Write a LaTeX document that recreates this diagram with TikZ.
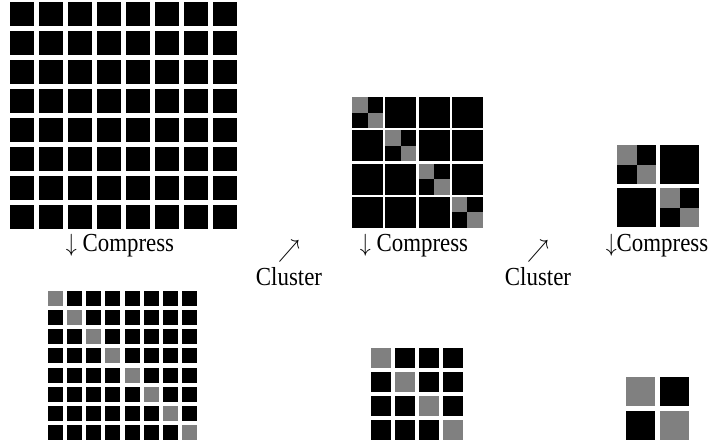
\documentclass[tikz,border=0pt]{standalone}
\usepackage{fontspec}
\setmainfont{Liberation Serif}
\usepackage{xcolor}
\definecolor{diag}{HTML}{808080}

\begin{document}
\begin{tikzpicture}[
    x=1pt, y=-1pt,
    every node/.style={font=\fontsize{26}{28}\selectfont, xscale=0.88, inner sep=0pt},
    blk/.style={fill=black},
    gry/.style={fill=diag},
    lbl/.style={align=center}
  ]
  \useasboundingbox (0,0) rectangle (712,442);

  % full blocks
  \foreach \i in {0,...,7} \foreach \j in {0,...,7}
    \fill[blk] ({10+29*\i},{2+29*\j}) rectangle +(24,24);
  \foreach \i in {0,...,7} \foreach \j in {0,...,7}
    \fill[blk] ({48+19.14*\i},{291+19.14*\j}) rectangle +(15,15);
  \foreach \i in {0,...,7}
    \fill[gry] ({48+19.14*\i},{291+19.14*\i}) rectangle +(15,15);

  % clustered, level 1
  \foreach \i in {0,...,3} \foreach \j in {0,...,3}
    \fill[blk] ({352+33.3*\i},{97+33.3*\j}) rectangle +(31,31);
  \foreach \i in {0,...,3} {
    \fill[gry] ({352+33.3*\i},{97+33.3*\i}) rectangle +(15.5,15.5);
    \fill[gry] ({367.5+33.3*\i},{112.5+33.3*\i}) rectangle +(15.5,15.5);
  }
  \foreach \i in {0,...,3} \foreach \j in {0,...,3}
    \fill[blk] ({371+24*\i},{348+24*\j}) rectangle +(20,20);
  \foreach \i in {0,...,3}
    \fill[gry] ({371+24*\i},{348+24*\i}) rectangle +(20,20);

  % clustered, level 2
  \foreach \i in {0,1} \foreach \j in {0,1}
    \fill[blk] ({617+43*\i},{145+43*\j}) rectangle +(39,39);
  \foreach \i in {0,1} {
    \fill[gry] ({617+43*\i},{145+43*\i}) rectangle +(19.5,19.5);
    \fill[gry] ({636.5+43*\i},{164.5+43*\i}) rectangle +(19.5,19.5);
  }
  \foreach \i in {0,1} \foreach \j in {0,1}
    \fill[blk] ({626+34*\i},{377+34*\j}) rectangle +(29,29);
  \foreach \i in {0,1}
    \fill[gry] ({626+34*\i},{377+34*\i}) rectangle +(29,29);

  \node (comp1) at (120,246) {$\downarrow$ Compress};
  \node (comp2) at (414,246) {$\downarrow$ Compress};
  \node (comp3) at (657,246) {$\downarrow$Compress};
  \node[lbl] (clus1) at (289,263) {$\nearrow$\\Cluster};
  \node[lbl] (clus2) at (538,263) {$\nearrow$\\Cluster};
\end{tikzpicture}
\end{document}
